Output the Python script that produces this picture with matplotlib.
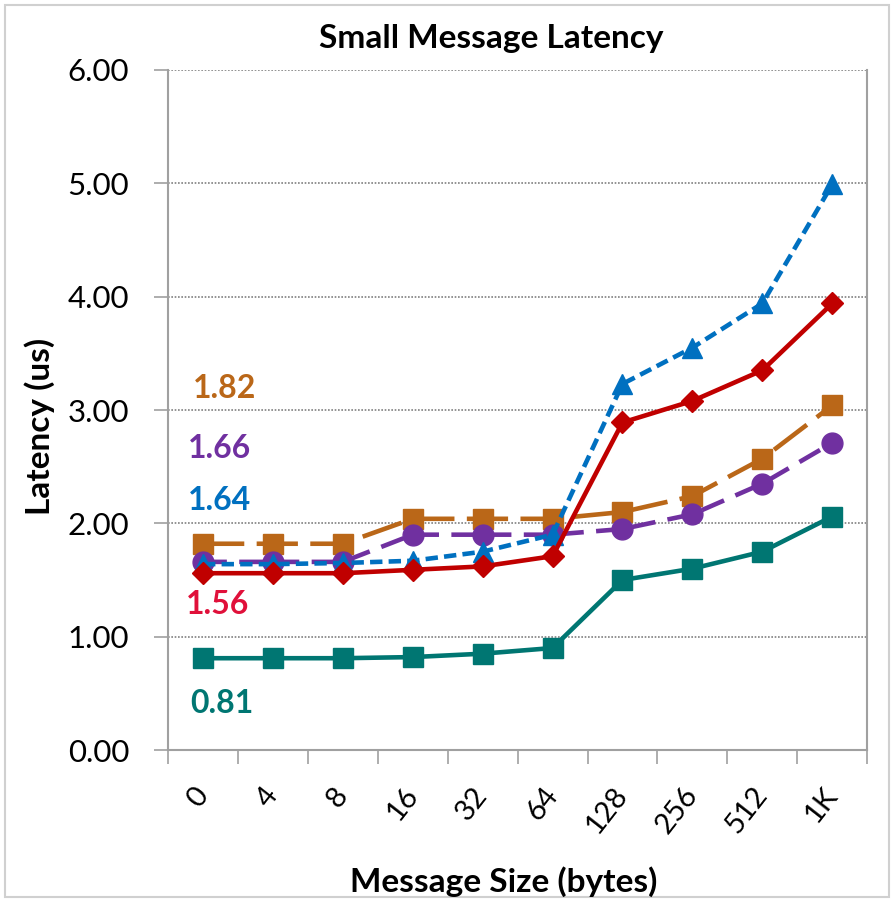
import matplotlib
matplotlib.use('Agg')
import matplotlib.pyplot as plt
from matplotlib.patches import Rectangle

# 数据
sizes = ['0', '4', '8', '16', '32', '64', '128', '256', '512', '1K']
teal_vals = [0.81, 0.81, 0.81, 0.82, 0.85, 0.90, 1.50, 1.60, 1.75, 2.06]
red_vals = [1.56, 1.56, 1.56, 1.59, 1.62, 1.71, 2.89, 3.08, 3.35, 3.94]
blue_vals = [1.64, 1.64, 1.65, 1.67, 1.75, 1.90, 3.23, 3.55, 3.94, 4.99]
purple_vals = [1.66, 1.66, 1.66, 1.90, 1.90, 1.90, 1.95, 2.08, 2.35, 2.71]
orange_vals = [1.82, 1.82, 1.82, 2.04, 2.04, 2.04, 2.10, 2.24, 2.57, 3.04]
y_ticks = [0, 1, 2, 3, 4, 5, 6]

ORANGE = '#BA6718'
PURPLE = '#7030A0'
BLUE = '#0070C0'
RED = '#C00000'
TEAL = '#007672'

plt.rcParams['font.family'] = ['Lato', 'DejaVu Sans']


def main():
    fig = plt.figure(figsize=(8.94, 9.02), dpi=100)
    # 图表外框
    fig.patches.append(Rectangle((0.006, 0.006), 0.988, 0.988, transform=fig.transFigure,
                                 fill=False, edgecolor='#D0D0D0', lw=1.5))
    ax = fig.add_axes([0.188, 0.1685, 0.782, 0.7539])
    x = list(range(len(sizes)))

    lw = 3.3
    ax.plot(x, orange_vals, color=ORANGE, lw=lw, dashes=(9, 2.7), marker='s', ms=14, zorder=2)
    ax.plot(x, purple_vals, color=PURPLE, lw=lw, dashes=(5.2, 2.7), marker='o', ms=15, zorder=3)
    ax.plot(x, blue_vals, color=BLUE, lw=lw, dashes=(2.7, 1.35), marker='^', ms=15, zorder=4)
    ax.plot(x, red_vals, color=RED, lw=lw, marker='D', ms=11, zorder=5)
    ax.plot(x, teal_vals, color=TEAL, lw=lw, marker='s', ms=14, zorder=6)

    # 左侧数值标注
    kw = dict(fontsize=23, fontweight='bold', ha='center', va='baseline')
    ax.text(0.31, 3.11, '1.82', color=ORANGE, **kw)
    ax.text(0.24, 2.58, '1.66', color=PURPLE, **kw)
    ax.text(0.24, 2.12, '1.64', color=BLUE, **kw)
    ax.text(0.21, 1.20, '1.56', color='#E0103A', **kw)
    ax.text(0.27, 0.33, '0.81', color=TEAL, **kw)

    ax.set_xlim(-0.5, len(sizes) - 0.5)
    ax.set_ylim(0, 6)
    ax.set_yticks(y_ticks)
    ax.set_yticklabels(['%.2f' % v for v in y_ticks], fontsize=22.5)
    ax.set_xticks(x)
    ax.set_xticklabels(sizes, fontsize=21, rotation=52, ha='right', va='center', rotation_mode='anchor')
    ax.tick_params(axis='x', length=0, pad=29)
    ax.set_xticks([i - 0.5 for i in range(len(sizes) + 1)], minor=True)
    ax.tick_params(axis='x', which='minor', length=10, width=1.2, color='#A0A0A0')
    ax.tick_params(axis='y', length=10, width=1.2, color='#A0A0A0', pad=18)

    ax.grid(axis='y', linestyle=(0, (1, 1)), color='#808080', lw=1.2)
    ax.set_axisbelow(True)
    ax.spines['top'].set_visible(False)
    for s in ['left', 'bottom', 'right']:
        ax.spines[s].set_color('#A0A0A0')
        ax.spines[s].set_linewidth(1.5)

    # 标题和坐标轴说明
    fig.text(491 / 894, 1 - 48 / 902, 'Small Message Latency', fontsize=24, fontweight='bold',
             ha='center', va='baseline')
    fig.text(504 / 894, 1 - 892 / 902, 'Message Size (bytes)', fontsize=24, fontweight='bold',
             ha='center', va='baseline')
    fig.text(40 / 894, 1 - 426 / 902, 'Latency (us)', fontsize=24, fontweight='bold',
             ha='center', va='center', rotation=90)

    fig.savefig('out.png', dpi=100)


if __name__ == '__main__':
    main()
